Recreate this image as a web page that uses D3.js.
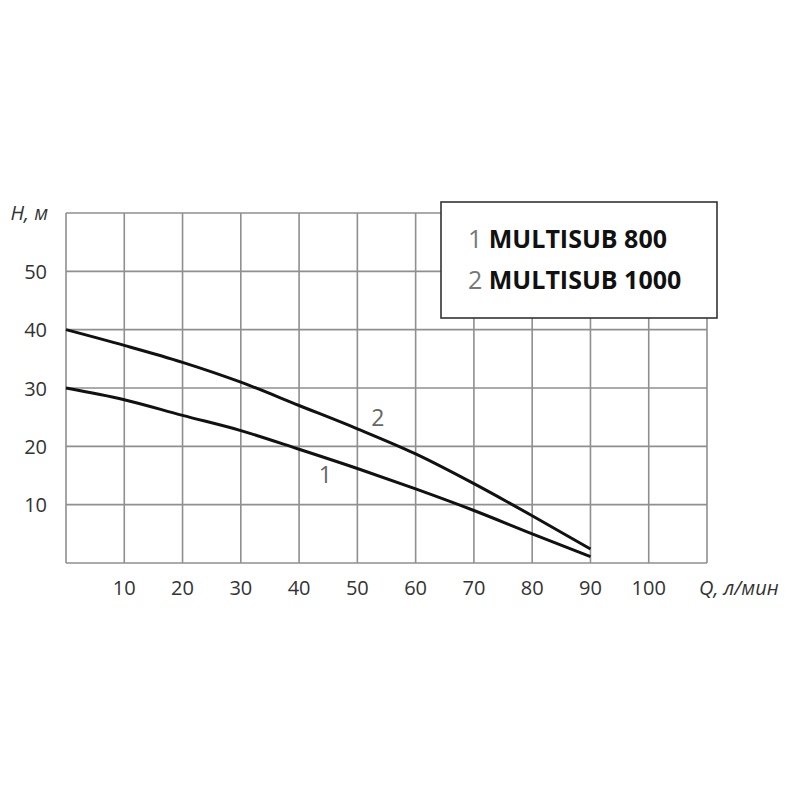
<!DOCTYPE html>
<html>
<head>
<meta charset="utf-8">
<script src="https://cdn.jsdelivr.net/npm/d3@7"></script>
<style>
  body { margin: 0; background: #fff; }
  text { font-family: "Open Sans", "Noto Sans", sans-serif; }
</style>
</head>
<body>
<svg width="800" height="800"></svg>
<script>
// flow, l/min
const flow = [0, 10, 20, 30, 40, 50, 60, 70, 80, 90];
// head, m
const head800 = [30, 28.0, 25.3, 22.7, 19.5, 16.2, 12.7, 9.0, 5.0, 1.1];
const head1000 = [40, 37.3, 34.4, 31.0, 27.0, 23.0, 18.7, 13.6, 8.1, 2.4];
const xTicks = [10, 20, 30, 40, 50, 60, 70, 80, 90, 100];
const yTicks = [10, 20, 30, 40, 50];
const legendNames = ["MULTISUB 800", "MULTISUB 1000"];

var svg = d3.select("svg");

var x = d3.scaleLinear().domain([0, 110]).range([66, 707]);
var y = d3.scaleLinear().domain([0, 60]).range([563, 213]);

// grid
var grid = svg.append("g")
    .attr("stroke", "#8f8f8f")
    .attr("stroke-width", 1.6);

grid.selectAll("line.v")
    .data(d3.range(0, 111, 10))
    .enter()
    .append("line")
    .attr("x1", d => x(d)).attr("x2", d => x(d))
    .attr("y1", y(0)).attr("y2", y(60));

grid.selectAll("line.h")
    .data(d3.range(0, 61, 10))
    .enter()
    .append("line")
    .attr("x1", x(0)).attr("x2", x(110))
    .attr("y1", d => y(d)).attr("y2", d => y(d));

// axes labels
svg.append("g")
    .selectAll("text")
    .data(xTicks)
    .enter()
    .append("text")
    .attr("x", d => x(d))
    .attr("y", 595)
    .attr("text-anchor", "middle")
    .attr("font-size", 20)
    .attr("fill", "#333")
    .text(d => d);

svg.append("g")
    .selectAll("text")
    .data(yTicks)
    .enter()
    .append("text")
    .attr("x", 47)
    .attr("y", d => y(d) + 7.5)
    .attr("text-anchor", "end")
    .attr("font-size", 20)
    .attr("fill", "#333")
    .text(d => d);

svg.append("text")
    .attr("x", 48).attr("y", 220)
    .attr("text-anchor", "end")
    .attr("font-size", 20)
    .attr("font-style", "italic")
    .attr("fill", "#333")
    .text("H, м");

svg.append("text")
    .attr("x", 699).attr("y", 595)
    .attr("font-size", 20)
    .attr("font-style", "italic")
    .attr("fill", "#333")
    .text("Q, л/мин");

// curves
var line = d3.line()
    .x(d => x(d[0]))
    .y(d => y(d[1]))
    .curve(d3.curveMonotoneX);

[head800, head1000].forEach(function(h) {
    svg.append("path")
        .datum(flow.map((f, i) => [f, h[i]]))
        .attr("fill", "none")
        .attr("stroke", "#111")
        .attr("stroke-width", 3)
        .attr("d", line);
});

// curve numbers
svg.append("text")
    .attr("x", x(44.5)).attr("y", y(13.7))
    .attr("text-anchor", "middle")
    .attr("font-size", 23)
    .attr("fill", "#666")
    .text("1");

svg.append("text")
    .attr("x", x(53.5)).attr("y", y(23.5))
    .attr("text-anchor", "middle")
    .attr("font-size", 23)
    .attr("fill", "#666")
    .text("2");

// legend
svg.append("rect")
    .attr("x", 441).attr("y", 202)
    .attr("width", 276).attr("height", 116)
    .attr("fill", "#fff")
    .attr("stroke", "#333")
    .attr("stroke-width", 1.6);

var leg = svg.append("g")
    .selectAll("text")
    .data(legendNames)
    .enter()
    .append("text")
    .attr("x", 468)
    .attr("y", (d, i) => 248 + i * 41)
    .attr("font-size", 25);

leg.append("tspan")
    .attr("fill", "#777")
    .text((d, i) => (i + 1) + " ");

leg.append("tspan")
    .attr("font-weight", "bold")
    .attr("fill", "#111")
    .text(d => d);
</script>
</body>
</html>
